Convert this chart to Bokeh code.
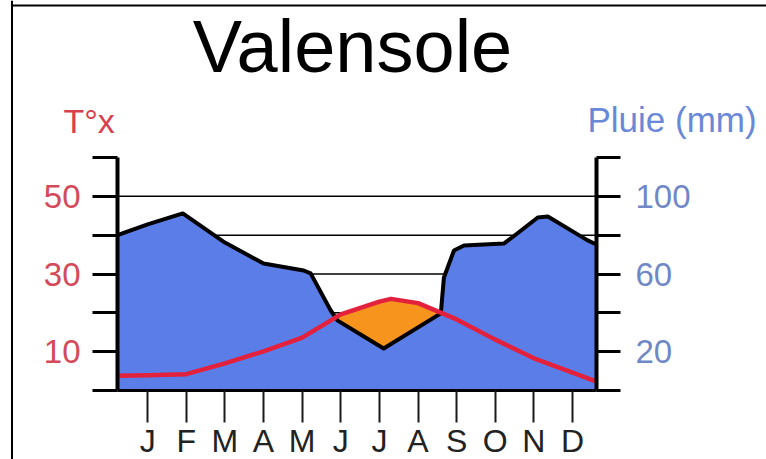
import numpy as np
from bokeh.plotting import figure
from bokeh.models import Range1d, LinearAxis, FixedTicker, Label, BoxAnnotation
from bokeh.embed import file_html
from bokeh.resources import INLINE

# ---- data ----
month_labels = ["J", "F", "M", "A", "M", "J", "J", "A", "S", "O", "N", "D"]
month_num = [1, 2, 3, 4, 5, 6, 7, 8, 9, 10, 11, 12]

# rainfall outline (mm), position in month units
rain_pos = [0.22, 1.0, 1.91, 3.0, 4.0, 5.04, 5.22, 5.74, 5.92, 7.11, 8.59, 8.67,
            8.93, 9.19, 10.22, 10.40, 11.10, 11.36, 12.39, 12.62]
rain_mm = [80, 85.6, 91.2, 76.2, 65.4, 61.8, 60.3, 41.2, 36.0, 21.6, 39.7, 58.2,
           72.1, 74.7, 75.7, 78.3, 89.1, 89.6, 77.3, 75.2]

# max temperature (°C)
temp_pos = [0.22, 1, 2, 3, 4, 5, 6, 7, 7.3, 8, 9, 10, 11, 12, 12.62]
temp_c = [3.8, 3.9, 4.2, 7.0, 10.1, 13.6, 19.6, 22.9, 23.6, 22.5, 18.3, 13.1, 8.3, 4.6, 2.3]

temp_ticks = [0, 10, 20, 30, 40, 50, 60]
temp_labeled = [10, 30, 50]
rain_ticks = [0, 20, 40, 60, 80, 100, 120]
rain_labeled = [20, 60, 100]
grid_lines = [10, 20, 30, 40, 50]

title = "Valensole"
temp_title = "T°x"
rain_title = "Pluie (mm)"

FONT = "Liberation Sans"
W, H = 766, 459

# ---- layout: the frame covers the whole canvas; chart box in pixels ----
X_START, X_END = rain_pos[0], rain_pos[-1]       # month span of the chart box
T_MAX = temp_ticks[-1]
BOX_L, BOX_R, BOX_T, BOX_B = 117, 596, 157, 390   # pixel edges of the chart box
sx = (BOX_R - BOX_L) / (X_END - X_START)
sy = (BOX_B - BOX_T) / T_MAX


def px2x(px):
    return X_START + (px - BOX_L) / sx


def py2y(py):
    return (BOX_B - py) / sy


p = figure(width=W, height=H, output_backend="svg", toolbar_location=None,
           x_range=Range1d(px2x(0), px2x(W)), y_range=Range1d(py2y(H), py2y(0)),
           x_axis_location=None, y_axis_location=None, title_location=None,
           min_border=0)
p.extra_y_ranges = {"rain": Range1d(2 * py2y(H), 2 * py2y(0))}
p.outline_line_color = None
p.background_fill_color = "white"
p.border_fill_color = "white"
p.xgrid.visible = False
p.ygrid.visible = False

# horizontal guide lines inside the chart box
p.segment(x0=X_START, x1=X_END, y0=grid_lines, y1=grid_lines,
          line_color="black", line_width=1.5)

# rain area
p.varea(x=rain_pos, y1=0, y2=rain_mm, y_range_name="rain", fill_color="#5b7de8")

# dry period (temperature above rain/2)
xs = np.linspace(X_START, X_END, 2500)
r = np.interp(xs, rain_pos, rain_mm)
t = np.interp(xs, temp_pos, temp_c)
p.varea(x=xs, y1=r, y2=np.maximum(r, 2 * t), y_range_name="rain", fill_color="#f7941e")

# outline of rain
p.line(rain_pos, rain_mm, y_range_name="rain", line_color="black", line_width=4,
       line_join="round")
# temperature
p.line(temp_pos, temp_c, line_color="#e3213d", line_width=4.5, line_join="round")

# x axis
xa = LinearAxis(fixed_location=0, bounds=(X_START, X_END), ticker=FixedTicker(ticks=month_num))
xa.major_label_overrides = {m: lab for m, lab in zip(month_num, month_labels)}
xa.major_tick_out = 32
xa.major_tick_in = 0
xa.major_tick_line_width = 2
xa.major_tick_line_color = "#1a1a1a"
xa.minor_tick_line_color = None
xa.axis_line_width = 3
xa.axis_line_color = "black"
xa.major_label_standoff = 0
xa.major_label_text_font = FONT
xa.major_label_text_font_size = "32px"
xa.major_label_text_color = "#222222"
p.add_layout(xa, "below")

# left axis
ya = LinearAxis(fixed_location=X_START, bounds=(0, T_MAX), ticker=FixedTicker(ticks=temp_ticks))
ya.major_label_overrides = {v: (str(v) if v in temp_labeled else "") for v in temp_ticks}
ya.major_tick_out = 25
ya.major_tick_in = 0
ya.major_tick_line_width = 3
ya.minor_tick_line_color = None
ya.axis_line_width = 4
ya.axis_line_color = "black"
ya.major_label_standoff = 12
ya.major_label_text_font = FONT
ya.major_label_text_font_size = "33px"
ya.major_label_text_color = "#d44a5a"
p.add_layout(ya, "left")

# right axis
ra = LinearAxis(y_range_name="rain", fixed_location=X_END, bounds=(0, 2 * T_MAX),
                ticker=FixedTicker(ticks=rain_ticks))
ra.major_label_overrides = {v: (str(v) if v in rain_labeled else "") for v in rain_ticks}
ra.major_tick_out = 24
ra.major_tick_in = 0
ra.major_tick_line_width = 3
ra.minor_tick_line_color = None
ra.axis_line_width = 4
ra.axis_line_color = "black"
ra.major_label_standoff = 15
ra.major_label_text_font = FONT
ra.major_label_text_font_size = "33px"
ra.major_label_text_color = "#7088c8"
p.add_layout(ra, "right")

# texts
p.add_layout(Label(x=px2x(352), y=py2y(46), text=title, text_font=FONT, text_font_size="74px",
                   text_color="black", text_align="center", text_baseline="alphabetic"))
p.add_layout(Label(x=px2x(63), y=py2y(120), text=temp_title, text_font=FONT,
                   text_font_size="34px", text_color="#d8404f", text_align="left",
                   text_baseline="alphabetic"))
p.add_layout(Label(x=px2x(587), y=py2y(119), text=rain_title, text_font=FONT,
                   text_font_size="35px", text_color="#6a88d8", text_align="left",
                   text_baseline="alphabetic"))

# picture border (left and top)
p.add_layout(BoxAnnotation(left=px2x(10.5), right=px2x(12.5), fill_color="black",
                           fill_alpha=1, line_color=None))
p.add_layout(BoxAnnotation(left=px2x(10.5), top=py2y(4), bottom=py2y(6), fill_color="black",
                           fill_alpha=1, line_color=None))

open("out.html", "w").write(file_html(p, INLINE))
